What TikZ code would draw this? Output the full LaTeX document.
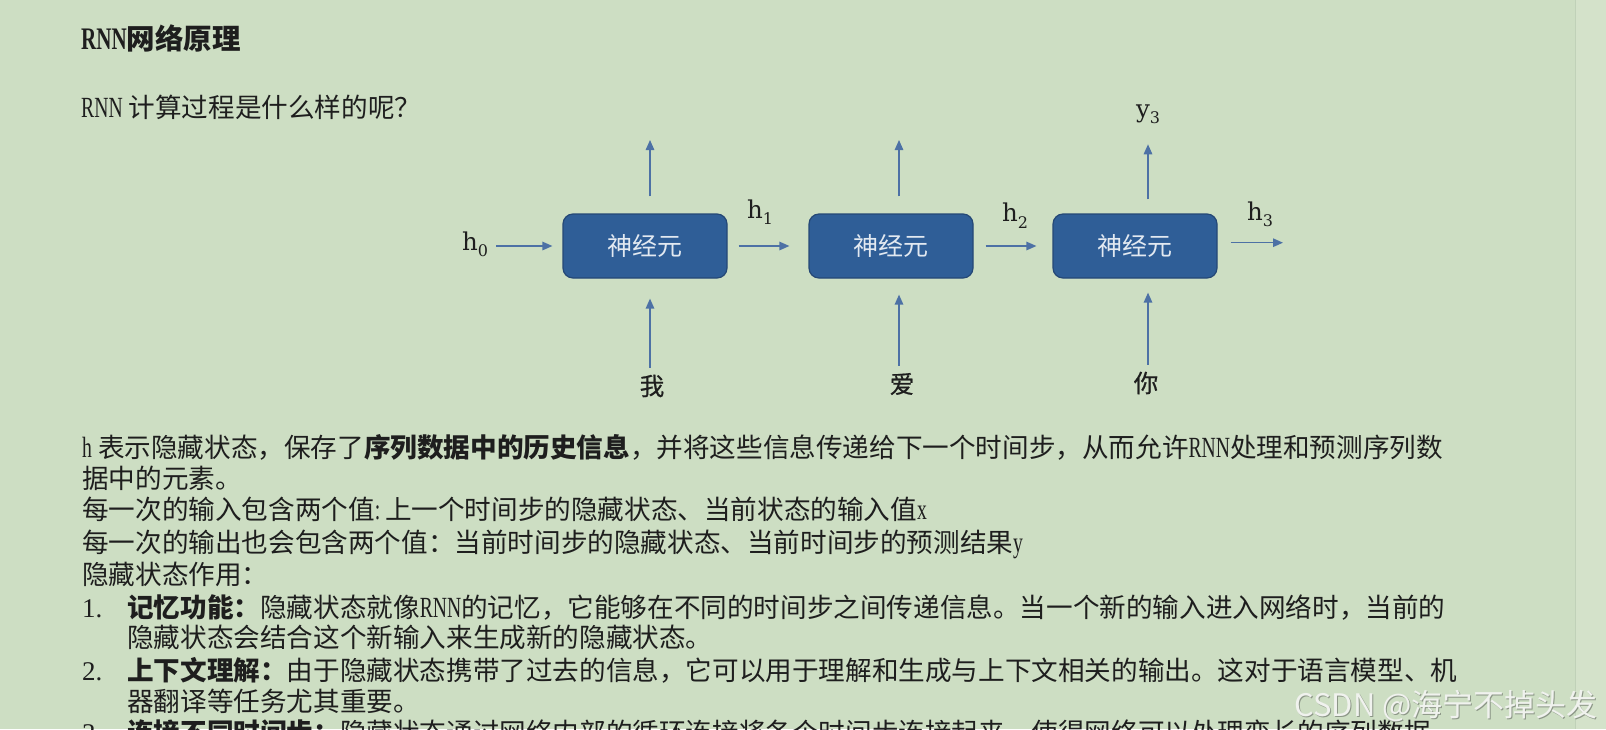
\documentclass[tikz,border=0pt]{standalone}
\usepackage{fontspec}
\usepackage{graphicx}
\usetikzlibrary{arrows.meta}
\newfontfamily\cjk{Noto Sans CJK SC}
\newfontfamily\cjkmed[FakeBold=0.7]{Noto Sans CJK SC}
\newfontfamily\latserif{Liberation Serif}
\newfontfamily\hserif{DejaVu Serif}
\newcommand\lat[1]{{\latserif\scalebox{0.74}[1.1]{#1}}}
\newcommand\hsub[2]{#1\raisebox{-0.28em}{\fontsize{16}{16}\selectfont #2}}
\definecolor{bg}{RGB}{205,222,195}
\definecolor{strip}{RGB}{212,226,202}
\definecolor{stripline}{RGB}{192,209,184}
\definecolor{boxfill}{RGB}{47,94,151}
\definecolor{boxdraw}{RGB}{37,72,118}
\definecolor{boxtxt}{RGB}{226,233,241}
\definecolor{arrowc}{RGB}{77,113,165}
\definecolor{txt}{RGB}{30,30,30}
\definecolor{wm}{RGB}{240,242,238}
\definecolor{wmshadow}{RGB}{140,150,135}
\begin{document}
\begin{tikzpicture}[x=1pt,y=-1pt,
  txtline/.style={anchor=base west, inner sep=0pt, text=txt, font=\cjk\fontsize{26.6}{32}\selectfont},
  numline/.style={anchor=base west, inner sep=0pt, text=txt, font=\latserif\fontsize{27}{32}\selectfont},
  titleline/.style={anchor=base west, inner sep=0pt, text=txt, font=\cjk\bfseries\fontsize{28.5}{32}\selectfont},
  neuron/.style={draw=boxdraw, fill=boxfill, line width=1.2pt, rounded corners=10pt,
    minimum width=164pt, minimum height=64pt, inner sep=0pt, text=boxtxt,
    font=\cjk\fontsize{25}{25}\selectfont},
  hlab/.style={anchor=base west, inner sep=0pt, text=txt, font=\hserif\fontsize{24.5}{24.5}\selectfont},
  inlab/.style={inner sep=0pt, text=txt, font=\cjkmed\fontsize{24.5}{24.5}\selectfont},
  arr/.style={draw=arrowc, line width=1.3pt, -{Triangle[length=10pt,width=8.5pt]}},
  wmtext/.style={anchor=base east, inner sep=0pt, font=\cjk\fontsize{31}{31}\selectfont}
]
\useasboundingbox (0,0) rectangle (1606,729);
\fill[bg] (0,0) rectangle (1575,729);
\fill[strip] (1575,0) rectangle (1606,729);
\draw[stripline, line width=1pt] (1575,0) -- (1575,729);

% headings
\node[titleline] (title) at (81,49) {\lat{RNN}网络原理};
\node[txtline] (sub) at (81,117.5) {\lat{RNN} 计算过程是什么样的呢？};

% diagram
\node[neuron] (b1) at (645,246) {神经元};
\node[neuron] (b2) at (891,246) {神经元};
\node[neuron] (b3) at (1135,246) {神经元};

\node[hlab] (h0) at (462,250) {\hsub{h}{0}};
\node[hlab] (h1) at (747,218) {\hsub{h}{1}};
\node[hlab] (h2) at (1002,221.5) {\hsub{h}{2}};
\node[hlab] (h3) at (1247,220) {\hsub{h}{3}};
\node[hlab, anchor=base] (y3) at (1148,117) {\hsub{y}{3}};

\node[inlab] (x1) at (652,386) {我};
\node[inlab] (x2) at (902,384) {爱};
\node[inlab] (x3) at (1146,383) {你};

\coordinate (o1) at (650,140);
\coordinate (o2) at (899,140);
\coordinate (h3e) at (1283,242.7);

% horizontal arrows
\draw[arr, shorten <=8pt, shorten >=10pt] (h0.east |- b1.west) -- (b1.west);
\draw[arr, shorten <=11pt, shorten >=19pt] (b1.east) -- (b2.west);
\draw[arr, shorten <=12pt, shorten >=16pt] (b2.east) -- (b3.west);
\draw[arr, shorten <=13pt] (b3.east |- h3e) -- (h3e);

% output arrows
\draw[arr, shorten <=17pt] (b1.north -| o1) -- (o1);
\draw[arr, shorten <=17pt] (b2.north -| o2) -- (o2);
\draw[arr, shorten <=14pt, shorten >=20pt] (b3.north -| y3.south) -- (y3.south);

% input arrows
\draw[arr, shorten <=7pt, shorten >=20pt] (x1.north -| o1) -- (b1.south -| o1);
\draw[arr, shorten <=7pt, shorten >=16pt] (x2.north -| o2) -- (b2.south -| o2);
\draw[arr, shorten <=7pt, shorten >=14pt] (x3.north -| y3.south) -- (b3.south -| y3.south);

% body text
\node[txtline] (l1) at (82,457) {\lat{h} 表示隐藏状态，保存了\textbf{序列数据中的历史信息}，并将这些信息传递给下一个时间步，从而允许\lat{RNN}处理和预测序列数};
\node[txtline] (l2) at (82,488) {据中的元素。};
\node[txtline] (l3) at (82,519) {每一次的输入包含两个值\lat{:\ }上一个时间步的隐藏状态、当前状态的输入值\lat{x}};
\node[txtline] (l4) at (82,552) {每一次的输出也会包含两个值：当前时间步的隐藏状态、当前时间步的预测结果\lat{y}};
\node[txtline] (l5) at (82,584.5) {隐藏状态作用：};
\node[numline] (n1) at (82,617) {1.};
\node[txtline] (l6) at (127,617) {\textbf{记忆功能：}隐藏状态就像\lat{RNN}的记忆，它能够在不同的时间步之间传递信息。当一个新的输入进入网络时，当前的};
\node[txtline] (l7) at (127,647.5) {隐藏状态会结合这个新输入来生成新的隐藏状态。};
\node[numline] (n2) at (82,680) {2.};
\node[txtline] (l8) at (127,680) {\textbf{上下文理解：}由于隐藏状态携带了过去的信息，它可以用于理解和生成与上下文相关的输出。这对于语言模型、机};
\node[txtline] (l9) at (127,711) {器翻译等任务尤其重要。};
\node[numline] (n3) at (82,742) {3.};
\node[txtline] (l10) at (127,742) {\textbf{连接不同时间步：}隐藏状态通过网络内部的循环连接将各个时间步连接起来，使得网络可以处理变长的序列数据};

% watermark
\node[wmtext, text=wmshadow] (wms) at (1599,717) {CSDN @海宁不掉头发};
\node[wmtext, text=wm] (wmk) at (1598,716) {CSDN @海宁不掉头发};
\end{tikzpicture}
\end{document}
